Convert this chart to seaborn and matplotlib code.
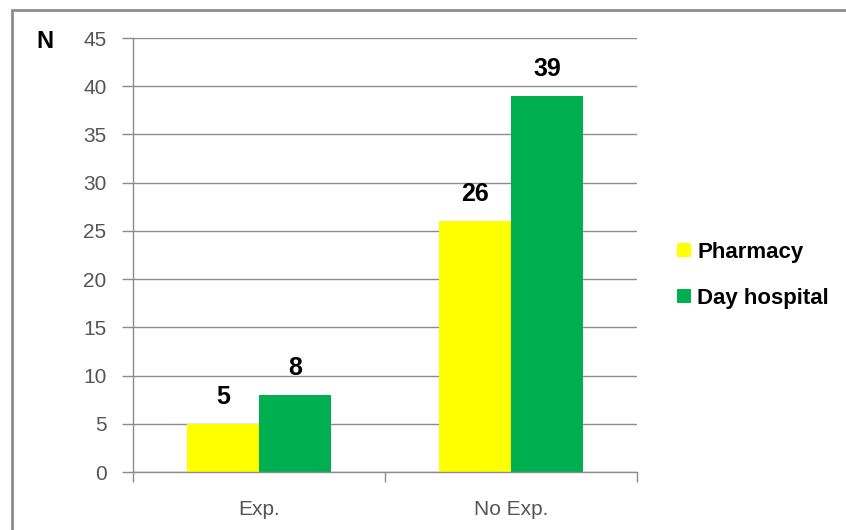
import matplotlib
matplotlib.use("Agg")
import matplotlib.pyplot as plt
import seaborn as sns
import pandas as pd
from matplotlib.patches import Rectangle
from matplotlib.ticker import FixedLocator

categories = ["Exp.", "No Exp."]
series_names = ["Pharmacy", "Day hospital"]
pharmacy = [5, 26]
day_hospital = [8, 39]
y_ticks = [0, 5, 10, 15, 20, 25, 30, 35, 40, 45]
colors = ["#FFFF00", "#00B050"]

df = pd.DataFrame({
    "category": categories * 2,
    "group": [series_names[0]] * 2 + [series_names[1]] * 2,
    "value": pharmacy + day_hospital,
})

sns.set_theme(style="white")
plt.rcParams["font.family"] = ["Liberation Sans", "DejaVu Sans"]

fig = plt.figure(figsize=(8.46, 5.30), dpi=100)
ax = fig.add_axes([133 / 846, 58 / 530, (637 - 133) / 846, (472 - 38) / 530])

sns.barplot(data=df, x="category", y="value", hue="group", order=categories,
            hue_order=series_names, palette=colors, width=0.57, gap=0,
            saturation=1, ax=ax, linewidth=0, legend=True)

ax.set_ylim(0, 45)
ax.set_xlim(-0.5, 1.5)
ax.set_yticks(y_ticks)
ax.set_xlabel("")
ax.set_ylabel("")
ax.yaxis.grid(True, color="#8c8c8c", linewidth=1)
ax.set_axisbelow(True)
for s in ["top", "right"]:
    ax.spines[s].set_visible(False)
for s in ["left", "bottom"]:
    ax.spines[s].set_color("#8c8c8c")
    ax.spines[s].set_linewidth(1)

ax.tick_params(axis="y", which="major", length=8, width=1, color="#8c8c8c",
               pad=11, labelsize=15, labelcolor="#555555", left=True)
ax.tick_params(axis="x", which="major", length=0, pad=20, labelsize=15,
               labelcolor="#555555")
ax.xaxis.set_minor_locator(FixedLocator([-0.5, 0.5, 1.5]))
ax.tick_params(axis="x", which="minor", length=7, width=1, color="#8c8c8c",
               bottom=True, direction="out")

for cont in ax.containers:
    ax.bar_label(cont, padding=11, fontsize=18, fontweight="bold", color="black")

leg = ax.legend(loc="center left", bbox_to_anchor=(1.08, 0.453), frameon=False,
                fontsize=16, handlelength=0.6, handleheight=0.6,
                handletextpad=0.3, labelspacing=1.1, borderaxespad=0,
                borderpad=0)
for t in leg.get_texts():
    t.set_fontweight("bold")
    t.set_color("black")

fig.text(45 / 846, 1 - 42 / 530, "N", fontsize=17, fontweight="bold",
         ha="center", va="center", color="black")

fig.patches.append(Rectangle((11.5 / 846, -0.1), 1.2, 1.1 - 10 / 530,
                             transform=fig.transFigure, fill=False,
                             edgecolor="#8c8c8c", linewidth=2, zorder=-1))

fig.savefig("out.png", dpi=100)
